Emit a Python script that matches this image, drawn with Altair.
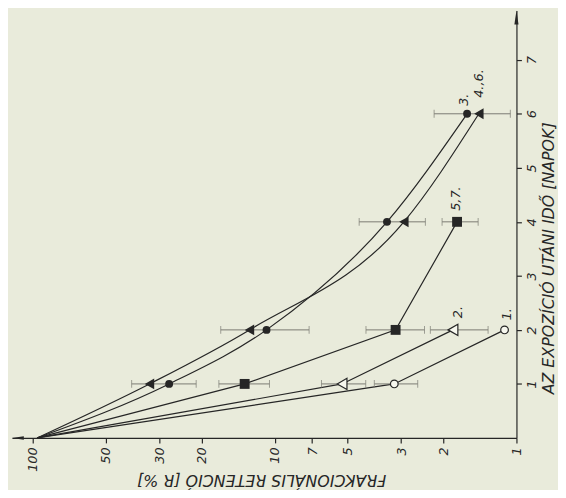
import altair as alt
import pandas as pd

# ---- data ----
# day after exposure, fractional retention R %
s1_day = [0, 1, 2]
s1_r = [96, 3.2, 1.12]
s2_day = [0, 1, 2]
s2_r = [96, 5.26, 1.83]
s3_day = [0, 1, 2, 4, 6]
s3_r = [96, 27.3, 10.8, 3.43, 1.60]
s46_day = [0, 1, 2, 4, 6]
s46_r = [96, 32.9, 12.7, 2.92, 1.43]
s57_day = [0, 1, 2, 4]
s57_r = [96, 13.3, 3.16, 1.76]

# error bars (day, low R, high R)
eb_day = [1, 1, 1, 1, 2, 2, 2, 4, 4, 6]
eb_lo = [21.1, 10.5, 4.2, 2.56, 7.2, 2.40, 1.31, 2.38, 1.44, 1.06]
eb_hi = [39.0, 17.0, 6.4, 3.87, 16.7, 4.19, 2.27, 4.47, 2.03, 2.19]

# series labels
lab_text = ["1.", "2.", "5,7.", "3.", "4.,6."]
lab_r = [1.09, 1.74, 1.78, 1.65, 1.43]
lab_day = [2.29, 2.33, 4.43, 6.26, 6.56]

r_ticks = [100, 50, 30, 20, 10, 7, 5, 3, 2, 1]
day_ticks = [1, 2, 3, 4, 5, 6, 7]

R_MIN, R_MAX = 1.0, 121.9
D_MIN, D_MAX = 0, 7.91

FONT = "DejaVu Sans"
INK = "#262626"
PAPER = "#e9ebdb"

def frame(series, days, rs):
    return pd.DataFrame({"series": series, "day": days, "r": rs})

df_lin = pd.concat([frame("1", s1_day, s1_r), frame("2", s2_day, s2_r),
                    frame("57", s57_day, s57_r)])
df_curve = pd.concat([frame("3", s3_day, s3_r), frame("46", s46_day, s46_r)])

def pts(series, days, rs):
    d = frame(series, days, rs)
    return d[d["day"] > 0]

xs = alt.Scale(type="log", domain=[R_MIN, R_MAX], reverse=True, nice=False)
ys = alt.Scale(domain=[D_MIN, D_MAX], nice=False, zero=False)

x_axis = alt.Axis(values=r_ticks, format="d", labelAngle=270, labelAlign="right",
                  labelBaseline="middle", labelPadding=4, tickSize=5, grid=False,
                  labelFont=FONT, labelFontSize=13, labelFontStyle="italic", labelColor=INK,
                  domainColor=INK, tickColor=INK, domainWidth=1.2, tickWidth=1.2,
                  title="FRAKCIONÁLIS RETENCIÓ [R %]", titleAngle=180, titleAlign="center",
                  titleBaseline="middle", titleX=252, titleY=42, titleFont=FONT,
                  titleFontSize=16, titleFontStyle="italic", titleFontWeight="normal",
                  titleColor=INK, labelFlush=False, labelOverlap=False)
y_axis = alt.Axis(orient="right", values=day_ticks, labelAngle=270, labelAlign="center",
                  labelBaseline="top", labelPadding=4, tickSize=5, grid=False,
                  labelFont=FONT, labelFontSize=13, labelFontStyle="italic", labelColor=INK,
                  domainColor=INK, tickColor=INK, domainWidth=1.2, tickWidth=1.2,
                  title="AZ EXPOZÍCIÓ UTÁNI IDŐ [NAPOK]", titleAngle=270, titleAlign="center",
                  titleBaseline="middle", titleX=32, titleY=250, titleFont=FONT,
                  titleFontSize=16, titleFontStyle="italic", titleFontWeight="normal",
                  titleColor=INK, labelFlush=False)

X = alt.X("r:Q", scale=xs, axis=x_axis)
Y = alt.Y("day:Q", scale=ys, axis=y_axis)

lines_lin = alt.Chart(df_lin).mark_line(color=INK, strokeWidth=1.2).encode(
    x=X, y=Y, detail="series:N", order="day:Q")
lines_curve = alt.Chart(df_curve).mark_line(color=INK, strokeWidth=1.2,
                                            interpolate="monotone").encode(
    x=X, y=Y, detail="series:N", order="day:Q")

df_eb = pd.DataFrame({"day": eb_day, "lo": eb_lo, "hi": eb_hi})
ebars = alt.Chart(df_eb).mark_rule(color="#7a7a72", strokeWidth=1).encode(
    x=alt.X("lo:Q", scale=xs, axis=x_axis), x2="hi:Q", y=Y)
df_caps = pd.DataFrame({"day": eb_day + eb_day, "r": eb_lo + eb_hi})
caps = alt.Chart(df_caps).mark_tick(color="#7a7a72", orient="vertical",
                                    size=8, thickness=1).encode(x=X, y=Y)

p_open_c = alt.Chart(pts("1", s1_day, s1_r)).mark_point(
    shape="circle", size=60, fill="#f6f7ee", stroke=INK, strokeWidth=1.2,
    opacity=1, fillOpacity=1).encode(x=X, y=Y)
p_open_t = alt.Chart(pts("2", s2_day, s2_r)).mark_point(
    shape="triangle-left", size=130, fill="#f6f7ee", stroke=INK, strokeWidth=1.2,
    opacity=1, fillOpacity=1).encode(x=X, y=Y)
p_fill_c = alt.Chart(pts("3", s3_day, s3_r)).mark_point(
    shape="circle", size=64, filled=True, color=INK, opacity=1).encode(x=X, y=Y)
p_fill_t = alt.Chart(pts("46", s46_day, s46_r)).mark_point(
    shape="triangle-left", size=120, filled=True, color=INK, opacity=1).encode(x=X, y=Y)
p_sq = alt.Chart(pts("57", s57_day, s57_r)).mark_point(
    shape="square", size=100, filled=True, color=INK, opacity=1).encode(x=X, y=Y)

df_lab = pd.DataFrame({"t": lab_text, "r": lab_r, "day": lab_day})
labels = alt.Chart(df_lab).mark_text(font=FONT, fontSize=13, fontStyle="italic",
                                     color=INK, angle=270, align="center",
                                     baseline="middle").encode(x=X, y=Y, text="t:N")

# axis arrowheads at the ends of the axes
df_up = pd.DataFrame({"r": [R_MIN], "day": [D_MAX]})
arrow_up = alt.Chart(df_up).mark_point(
    shape="M0,0L0.3,2L-0.3,2Z", size=196, filled=True, color=INK, opacity=1).encode(x=X, y=Y)
df_left = pd.DataFrame({"r": [R_MAX], "day": [D_MIN]})
arrow_left = alt.Chart(df_left).mark_point(
    shape="M0,0L2,-0.3L2,0.3Z", size=144, filled=True, color=INK, opacity=1).encode(x=X, y=Y)

chart = alt.layer(
    lines_lin, lines_curve, ebars, caps, p_open_c, p_open_t, p_fill_c, p_fill_t, p_sq,
    labels, arrow_up, arrow_left
).properties(
    width=510, height=432,
    autosize=alt.AutoSizeParams(type="none"),
    padding={"left": 4, "top": 0, "right": 42, "bottom": 50},
    background=PAPER,
).configure_view(stroke=None)

chart.save("out.html", embed_options={"renderer": "svg", "actions": False})
